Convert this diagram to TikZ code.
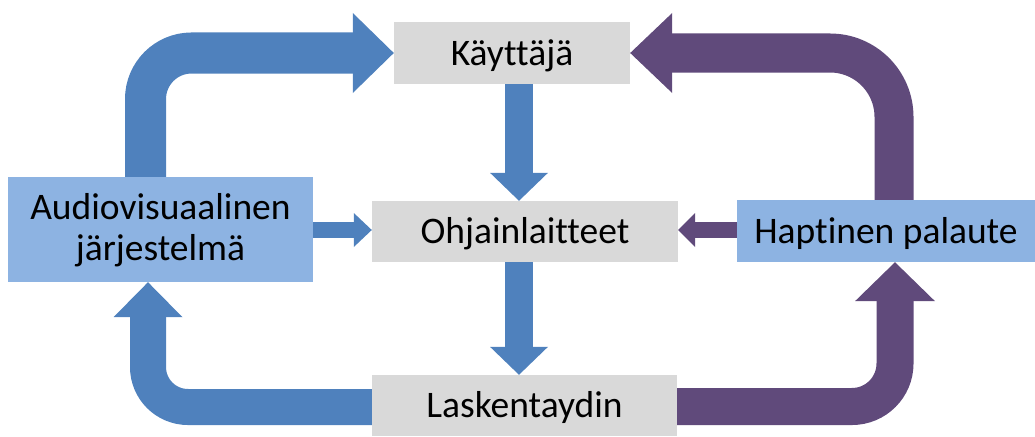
\documentclass[tikz,border=0pt]{standalone}
\usepackage{fontspec}
\setmainfont{Carlito}[Ligatures=NoCommon]
\usetikzlibrary{calc}
\definecolor{flowblue}{HTML}{4F81BD}
\definecolor{flowpurple}{HTML}{604A7B}
\definecolor{boxgray}{HTML}{D9D9D9}
\definecolor{boxblue}{HTML}{8DB3E2}
\begin{document}
\begin{tikzpicture}[x=1pt,y=-1pt,
  lbl/.style={font=\fontsize{37.5}{41}\selectfont, text=black, inner sep=0pt,
    text height=24pt, text depth=0pt},
  graybox/.style={lbl, fill=boxgray},
  bluebox/.style={lbl, fill=boxblue},
  blueshaft/.style={draw=flowblue},
  purpleshaft/.style={draw=flowpurple},
  bluehead/.style={fill=flowblue},
  purplehead/.style={fill=flowpurple}]
\useasboundingbox (0,0) rectangle (1035,436);

% boxes (placed first so the connectors can refer to them)
\node[graybox, minimum width=236pt, minimum height=62pt] (kay) at (512,53) {Käyttäjä};
\node[graybox, minimum width=306pt, minimum height=61pt] (ohj) at (525,231.5) {Ohjainlaitteet};
\node[graybox, minimum width=305pt, minimum height=61pt] (las) at (524.5,405.5) {Laskentaydin};
\node[bluebox, minimum width=305pt, minimum height=105pt, align=center,
      text height=62pt] (av) at (160.5,229.5) {Audiovisuaalinen\\järjestelmä};
\node[bluebox, minimum width=298pt, minimum height=62pt] (hap) at (886,231) {Haptinen palaute};

% guide coordinates for the shaft centre lines
\coordinate (tl) at (145.5,53);
\coordinate (tr) at (894,53);
\coordinate (bl) at (148,407);
\coordinate (br) at (895,406.5);
\coordinate (mx) at (519,0);
\coordinate (my) at (0,230);

% audiovisual system -> user
\draw[blueshaft, line width=41pt, rounded corners=46pt]
  (av.north -| tl) |- ($(kay.west)+(-40,0)$);
\fill[bluehead] (kay.west) -- ++(-41,-40) -- ++(0,80) -- cycle;

% haptic feedback -> user
\draw[purpleshaft, line width=39pt, rounded corners=64pt]
  (hap.north -| tr) |- ($(kay.east)+(41,0)$);
\fill[purplehead] (kay.east) -- ++(42,-40) -- ++(0,80) -- cycle;

% core -> audiovisual system
\draw[blueshaft, line width=36pt, rounded corners=40pt]
  (las.west |- bl) -| ($(av.south -| bl)+(0,34)$);
\fill[bluehead] (av.south -| bl) -- ++(-34.5,35) -- ++(69,0) -- cycle;

% core -> haptic feedback
\draw[purpleshaft, line width=37pt, rounded corners=43pt]
  (las.east |- br) -| ($(hap.south -| br)+(0,38)$);
\fill[purplehead] (hap.south -| br) -- ++(-40,39) -- ++(80,0) -- cycle;

% user -> controllers -> core
\draw[blueshaft, line width=28pt] (kay.south -| mx) -- ($(ohj.north -| mx)+(0,-27)$);
\fill[bluehead] (ohj.north -| mx) -- ++(-29,-28) -- ++(58,0) -- cycle;
\draw[blueshaft, line width=28pt] (ohj.south -| mx) -- ($(las.north -| mx)+(0,-27)$);
\fill[bluehead] (las.north -| mx) -- ++(-29,-28) -- ++(58,0) -- cycle;

% side inputs to the controllers
\draw[blueshaft, line width=16pt] (av.east |- my) -- ($(ohj.west |- my)+(-17,0)$);
\fill[bluehead] (ohj.west |- my) -- ++(-18,-17) -- ++(0,34) -- cycle;
\draw[purpleshaft, line width=16pt] (hap.west |- my) -- ($(ohj.east |- my)+(16,0)$);
\fill[purplehead] (ohj.east |- my) -- ++(17,-17) -- ++(0,34) -- cycle;
\end{tikzpicture}
\end{document}
